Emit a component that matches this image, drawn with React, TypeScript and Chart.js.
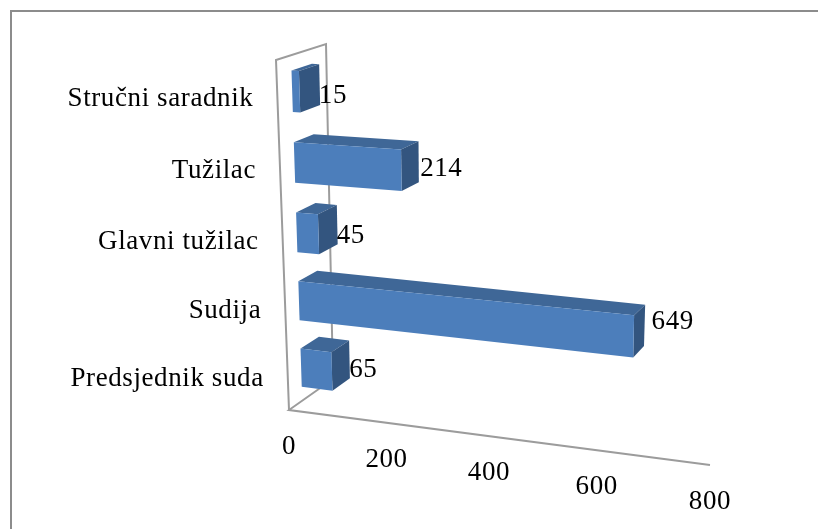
import React, { useEffect, useRef } from "react";
import { Chart, registerables } from "chart.js";

Chart.register(...registerables);

const categories = ["Predsjednik suda", "Sudija", "Glavni tužilac", "Tužilac", "Stručni saradnik"];
const values = [65, 649, 45, 214, 15];
const axisMax = 800;
const axisStep = 200;

type Pt = [number, number];
const FONT = "27px 'Liberation Serif'";

// Corners of the 3D box: [u, c] at front (d=0) and back (d=1).
const front = { a: [289, 410] as Pt, b: [710, 465] as Pt, c: [276, 60] as Pt, d: [721, 80] as Pt };
const back = { a: [333, 379] as Pt, b: [730, 434] as Pt, c: [326, 44] as Pt, d: [747, 64] as Pt };
const D0 = 0.3;
const D1 = 0.71;

const persp = (t: number, a: number) => (a * t) / (1 + (a - 1) * t);
const lerp = (p: Pt, q: Pt, t: number): Pt => [p[0] + (q[0] - p[0]) * t, p[1] + (q[1] - p[1]) * t];

function project(u: number, c: number, d: number): Pt {
  const uu = persp(u, 0.905);
  const cc = persp(c, 0.95);
  const f = lerp(lerp(front.a, front.b, uu), lerp(front.c, front.d, uu), cc);
  const b = lerp(lerp(back.a, back.b, uu), lerp(back.c, back.d, uu), cc);
  return lerp(f, b, d);
}

function quad(ctx: CanvasRenderingContext2D, pts: Pt[], fill: string | CanvasGradient) {
  ctx.beginPath();
  pts.forEach((p, i) => (i ? ctx.lineTo(p[0], p[1]) : ctx.moveTo(p[0], p[1])));
  ctx.closePath();
  ctx.fillStyle = fill;
  ctx.fill();
}

function line(ctx: CanvasRenderingContext2D, pts: Pt[], color: string, w: number) {
  ctx.beginPath();
  pts.forEach((p, i) => (i ? ctx.lineTo(p[0], p[1]) : ctx.moveTo(p[0], p[1])));
  ctx.strokeStyle = color;
  ctx.lineWidth = w;
  ctx.stroke();
}

const perspectivePlugin = {
  id: "perspective",
  beforeDatasetsDraw(chart: any) {
    const ctx: CanvasRenderingContext2D = chart.ctx;
    const { left, right, top, bottom } = chart.chartArea;
    const xs = chart.scales.x;
    const ys = chart.scales.y;
    const U = (px: number) => (px - left) / (right - left);
    const C = (px: number) => (bottom - px) / (bottom - top);

    ctx.save();
    // frame
    ctx.strokeStyle = "#8c8c8c";
    ctx.lineWidth = 2;
    ctx.beginPath();
    ctx.moveTo(11, 529);
    ctx.lineTo(11, 11);
    ctx.lineTo(818, 11);
    ctx.stroke();

    // wall and floor
    const wallColor = "#9c9c9c";
    line(ctx, [project(0, 0, 1), project(0, 0, 0), project(1, 0, 0)], wallColor, 2);
    line(ctx, [project(0, 0, 0), project(0, 1, 0), project(0, 1, 1), project(0, 0, 1)], wallColor, 2);

    // bars, back (top) to front (bottom)
    const meta = chart.getDatasetMeta(0);
    const order = meta.data.map((_: any, i: number) => i).reverse();
    order.forEach((i: number) => {
      const el = meta.data[i];
      const props = el.getProps(["x", "y", "base", "height"], true);
      const u0 = U(props.base);
      const u1 = U(props.x);
      const c0 = C(props.y + props.height / 2);
      const c1 = C(props.y - props.height / 2);
      const tl = project(u0, c1, D0);
      const tr = project(u1, c1, D0);
      const br = project(u1, c0, D0);
      const bl = project(u0, c0, D0);
      const tlb = project(u0, c1, D1);
      const trb = project(u1, c1, D1);
      const brb = project(u1, c0, D1);
      quad(ctx, [tl, tr, trb, tlb], "#3f6797");
      quad(ctx, [tr, br, brb, trb], "#33557f");
      quad(ctx, [tl, tr, br, bl], "#4c7ebb");
    });

    // value labels
    ctx.font = FONT;
    (ctx as any).letterSpacing = "0.6px";
    ctx.fillStyle = "#000";
    ctx.textBaseline = "middle";
    ctx.textAlign = "left";
    order.forEach((i: number) => {
      const el = meta.data[i];
      const props = el.getProps(["x", "y"], true);
      const u = U(props.x);
      const p = project(u, C(props.y), D1);
      const uu = persp(u, 0.905);
      ctx.fillText(String(values[i]), p[0] + 10 * uu - 1, p[1] + 12 - 20 * uu);
    });

    // category labels
    ctx.textAlign = "right";
    chart.data.labels.forEach((lab: string, i: number) => {
      const p = project(0, C(ys.getPixelForValue(i)), 0);
      ctx.fillText(lab, p[0] - 24, p[1] + 2);
    });

    // value axis labels
    ctx.textAlign = "center";
    xs.ticks.forEach((t: any) => {
      const p = project(U(xs.getPixelForValue(t.value)), 0, 0);
      ctx.fillText(String(t.value), p[0], p[1] + 37);
    });
    ctx.restore();
    return false;
  },
};

export default function App() {
  const ref = useRef<HTMLCanvasElement>(null);
  useEffect(() => {
    const chart = new Chart(ref.current!, {
      type: "bar",
      data: {
        labels: categories,
        datasets: [{ data: values, backgroundColor: "#4c7ebb", barPercentage: 0.575, categoryPercentage: 1 }],
      },
      options: {
        indexAxis: "y",
        animation: false,
        responsive: false,
        layout: { padding: 0 },
        plugins: { legend: { display: false }, tooltip: { enabled: false } },
        scales: {
          x: { display: false, min: 0, max: axisMax, ticks: { stepSize: axisStep } },
          y: { display: false, reverse: true },
        },
      },
      plugins: [perspectivePlugin],
    } as any);
    return () => chart.destroy();
  }, []);
  return (
    <div style={{ position: "fixed", left: 0, top: 0, width: 818, height: 529, background: "#fff" }}>
      <canvas ref={ref} width={818} height={529} style={{ display: "block" }} />
    </div>
  );
}
